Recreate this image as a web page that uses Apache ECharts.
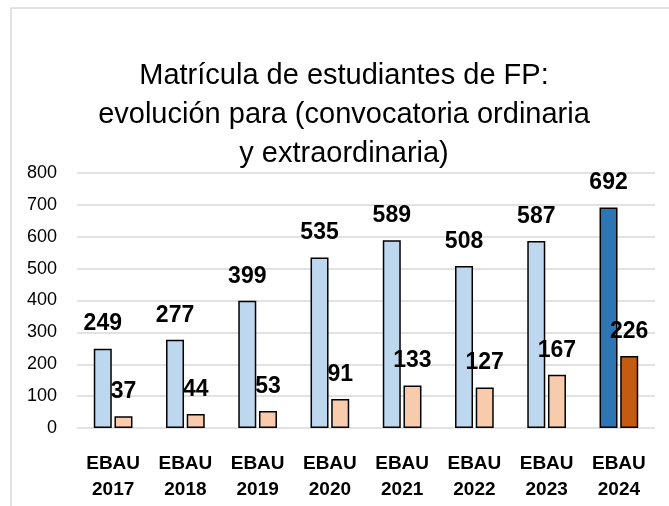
<!DOCTYPE html>
<html>
<head>
<meta charset="utf-8">
<script src="https://cdn.jsdelivr.net/npm/echarts@6/dist/echarts.min.js"></script>
<style>
  html, body { margin: 0; padding: 0; background: #fff; }
  #chart { width: 669px; height: 506px; }
</style>
</head>
<body>
<div id="chart"></div>
<script>
// Matrícula de estudiantes de FP, por convocatoria
const categories = ['EBAU\n2017', 'EBAU\n2018', 'EBAU\n2019', 'EBAU\n2020', 'EBAU\n2021', 'EBAU\n2022', 'EBAU\n2023', 'EBAU\n2024'];
const ordinaria = [249, 277, 399, 535, 589, 508, 587, 692];
const extraordinaria = [37, 44, 53, 91, 133, 127, 167, 226];
const yTicks = [0, 100, 200, 300, 400, 500, 600, 700, 800];

const FONT = 'Liberation Sans, Arial, sans-serif';

// the latest year is highlighted with darker fills
function colored(values, light, dark) {
  return values.map((v, i) => ({
    value: v,
    itemStyle: { color: i === values.length - 1 ? dark : light }
  }));
}

const labelStyle = {
  show: true,
  position: 'top',
  distance: 13,
  color: '#000',
  fontFamily: FONT,
  fontWeight: 'bold',
  fontSize: 23
};

const chart = echarts.init(document.getElementById('chart'), null, { renderer: 'canvas' });
chart.setOption({
  animation: false,
  backgroundColor: '#fff',
  graphic: [{
    type: 'rect',
    shape: { x: 11, y: 8, width: 720, height: 560 },
    style: { fill: 'none', stroke: '#d9d9d9', lineWidth: 1.5 },
    silent: true,
    z: -1
  }],
  title: {
    text: 'Matrícula de estudiantes de FP:\nevolución para (convocatoria ordinaria\ny extraordinaria)',
    left: 339,
    top: 51,
    textAlign: 'center',
    textStyle: {
      fontFamily: FONT,
      fontWeight: 'normal',
      fontSize: 29,
      lineHeight: 39,
      color: '#000'
    }
  },
  grid: { left: 77, right: 14, top: 173, bottom: 78, containLabel: false },
  xAxis: {
    type: 'category',
    data: categories,
    axisLine: { show: false },
    axisTick: { show: false },
    axisLabel: {
      margin: 23,
      color: '#000',
      fontFamily: FONT,
      fontWeight: 'bold',
      fontSize: 19,
      lineHeight: 26
    }
  },
  yAxis: {
    type: 'value',
    min: yTicks[0],
    max: yTicks[yTicks.length - 1],
    interval: 100,
    axisLine: { show: false },
    axisTick: { show: false },
    axisLabel: {
      margin: 20,
      color: '#000',
      fontFamily: FONT,
      fontSize: 18
    },
    splitLine: { lineStyle: { color: '#d9d9d9', width: 1.5 } }
  },
  series: [
    {
      name: 'Ordinaria',
      type: 'bar',
      data: colored(ordinaria, '#BDD7EE', '#2E75B6'),
      barWidth: 18,
      barGap: '15%',
      itemStyle: { borderColor: '#000', borderWidth: 1.5 },
      label: labelStyle
    },
    {
      name: 'Extraordinaria',
      type: 'bar',
      data: colored(extraordinaria, '#F8CBAD', '#C55A11'),
      barWidth: 18,
      itemStyle: { borderColor: '#000', borderWidth: 1.5 },
      label: labelStyle
    }
  ]
});
</script>
</body>
</html>
